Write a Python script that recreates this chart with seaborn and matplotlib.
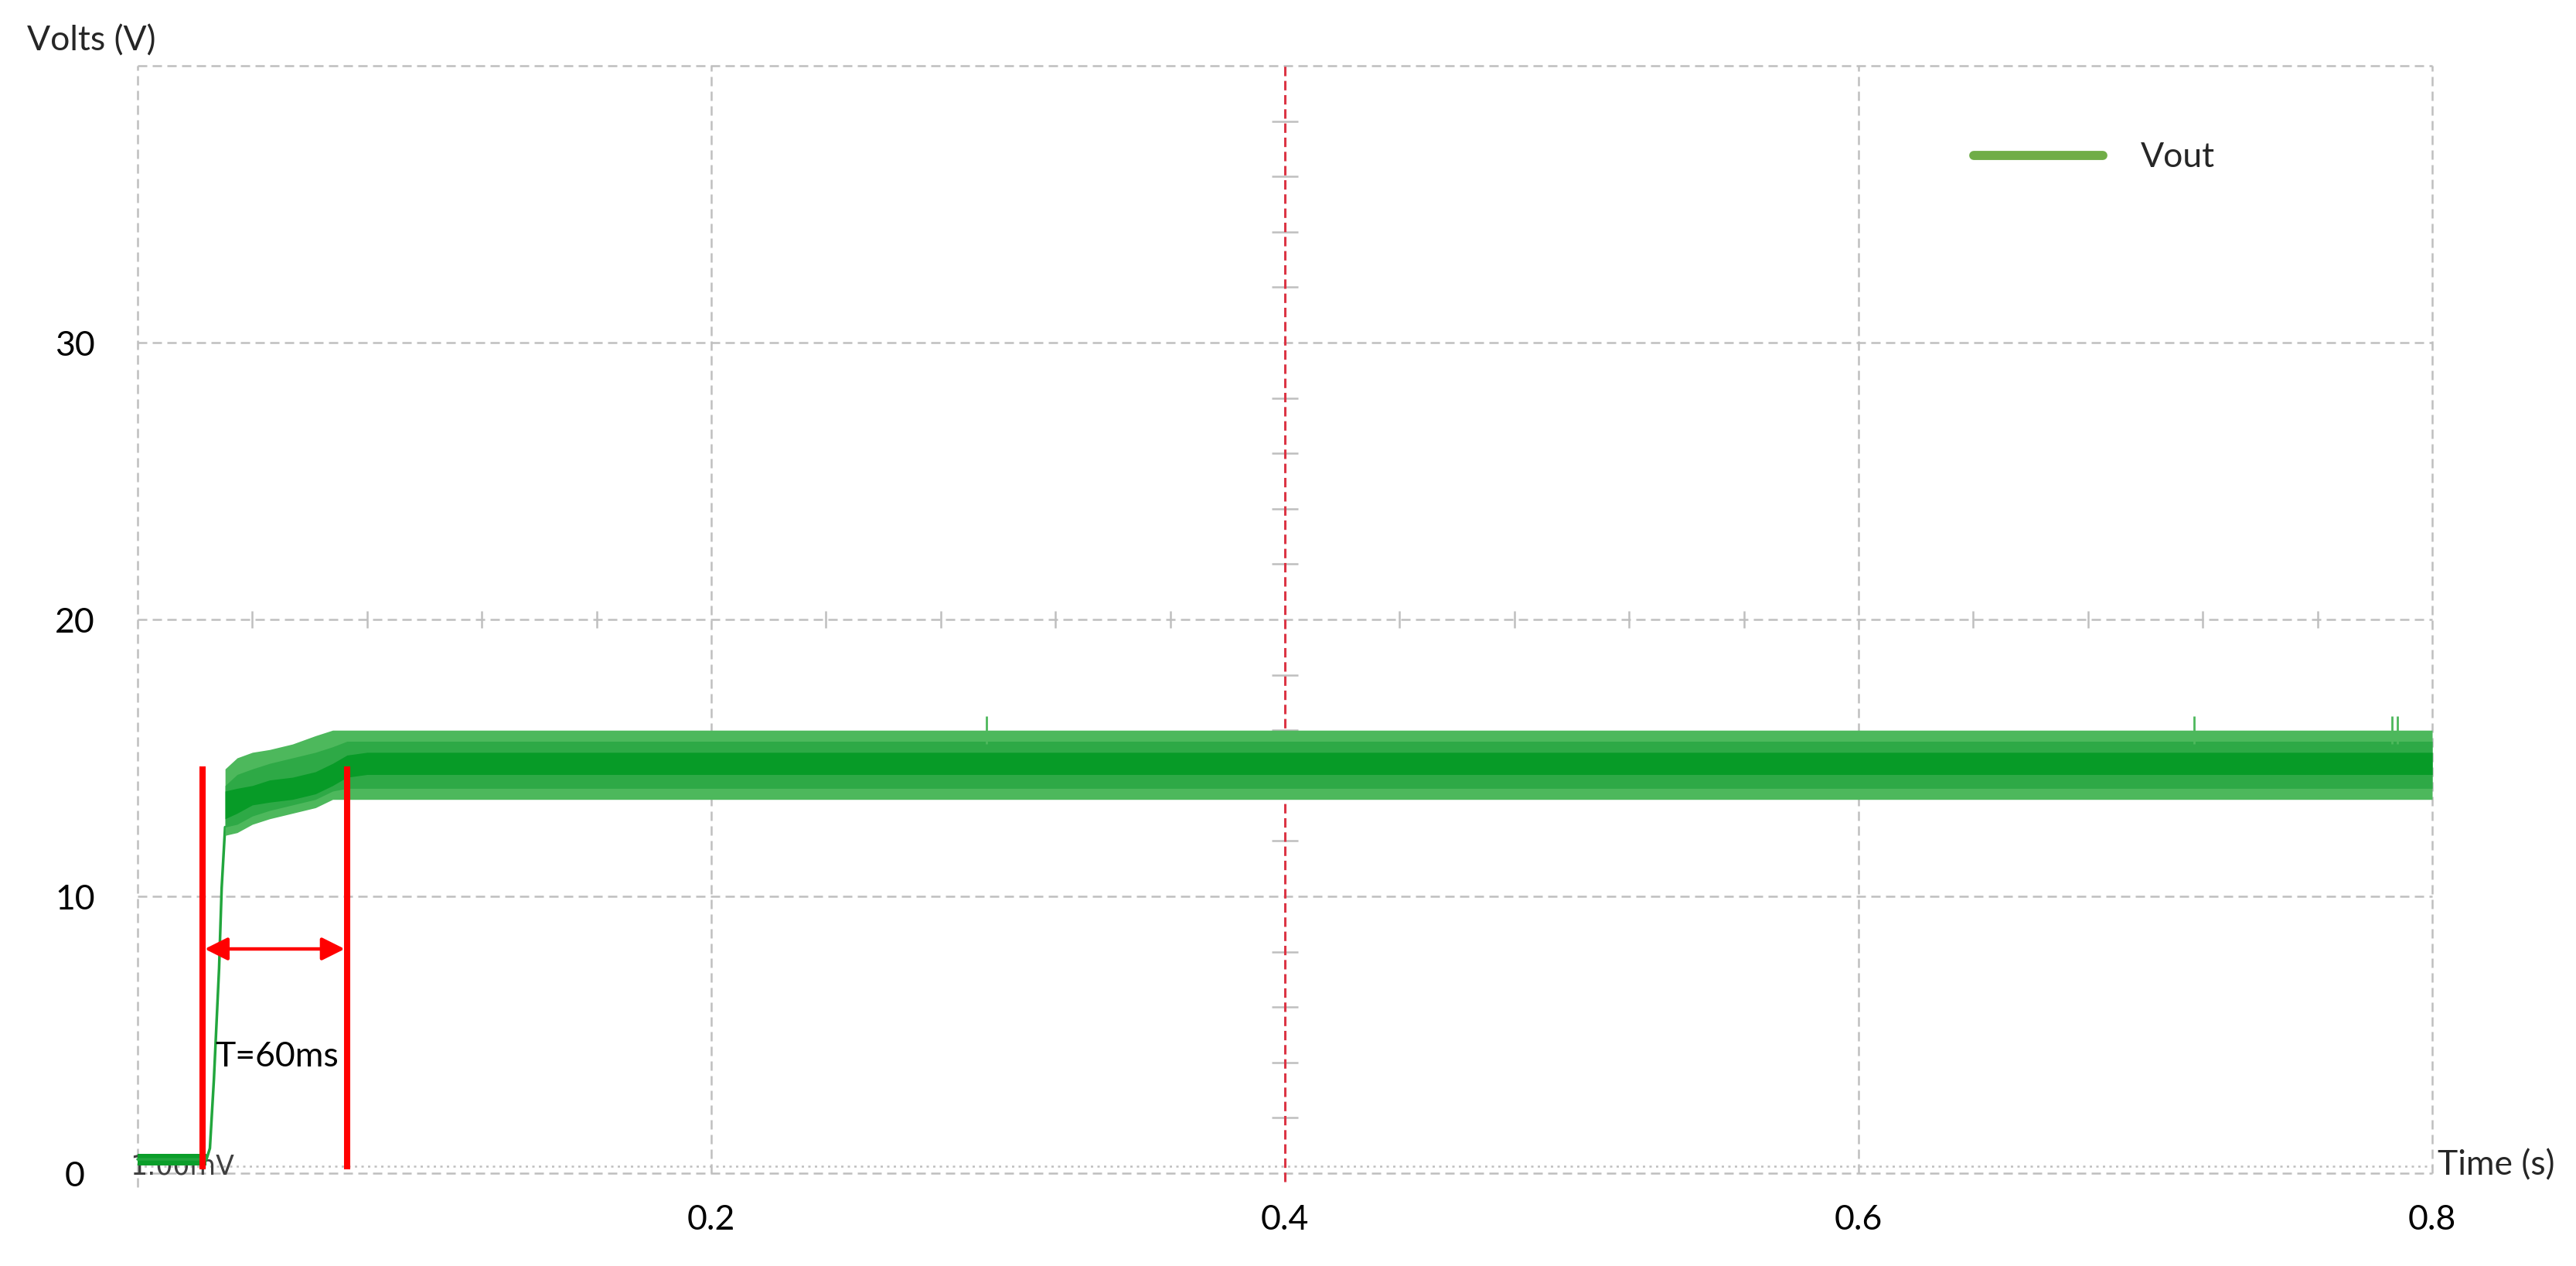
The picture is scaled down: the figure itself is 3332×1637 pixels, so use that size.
import matplotlib
matplotlib.use("Agg")
import matplotlib.pyplot as plt
from matplotlib.lines import Line2D
import seaborn as sns
import pandas as pd

# ---------------- data ----------------
# start-up edge of Vout
rise_t = [0.0, 0.0240, 0.0252, 0.0266, 0.0284, 0.0293, 0.0305]
rise_v = [0.5, 0.5, 0.9, 3.4, 7.4, 10.3, 12.5]

# pre-start baseline band
base_t = [0.0, 0.0240]
base_lo = [0.28, 0.28]
base_hi = [0.70, 0.70]

# ripple envelope after start-up
band_t = [0.0305, 0.0347, 0.040, 0.046, 0.054, 0.062, 0.068, 0.073, 0.080, 0.800]
outer_hi = [14.6, 15.0, 15.2, 15.3, 15.5, 15.8, 16.0, 16.0, 16.0, 16.0]
outer_lo = [12.2, 12.3, 12.6, 12.8, 13.0, 13.2, 13.5, 13.5, 13.5, 13.5]
mid_hi = [14.0, 14.4, 14.6, 14.8, 15.0, 15.2, 15.4, 15.6, 15.6, 15.6]
mid_lo = [12.5, 12.6, 12.9, 13.1, 13.3, 13.5, 13.8, 13.9, 13.9, 13.9]
dark_hi = [13.8, 13.9, 14.0, 14.2, 14.3, 14.5, 14.8, 15.1, 15.2, 15.2]
dark_lo = [12.8, 13.0, 13.3, 13.4, 13.5, 13.7, 14.0, 14.3, 14.4, 14.4]

# isolated ripple spikes
spike_t = [0.296, 0.717, 0.786, 0.788]
spike_v = [16.5, 16.5, 16.5, 16.5]

# annotation
marker_t = [0.0226, 0.0730]
marker_top = 14.7
arrow_v = 8.1
note_text = "T=60ms"
note_t, note_v = 0.027, 4.2

x_ticks = [0.2, 0.4, 0.6, 0.8]
x_labels = ["0.2", "0.4", "0.6", "0.8"]
y_ticks = [0, 10, 20, 30]
y_labels = ["0", "10", "20", "30"]
grid_x = [0.2, 0.6, 0.8]
grid_y = [10, 20, 30, 40]
minor_x = [0.04, 0.08, 0.12, 0.16, 0.24, 0.28, 0.32, 0.36, 0.44, 0.48, 0.52, 0.56,
           0.64, 0.68, 0.72, 0.76]
minor_y = [2, 4, 6, 8, 12, 14, 16, 18, 22, 24, 26, 28, 32, 34, 36, 38]
cursor_t = 0.4

# ---------------- style ----------------
sns.set_style("white")
plt.rcParams['font.family'] = ['Lato', 'DejaVu Sans']

W, H = 3332, 1637
fig = plt.figure(figsize=(W / 100, H / 100), dpi=100)
ax = fig.add_axes([0.04229, 0.0405, 0.92416, 0.92944])
ax.set_xlim(-0.01, 0.82)
ax.set_ylim(-1.5, 41)
for s in ax.spines.values():
    s.set_visible(False)

gcol = "#BFBFBF"
glw = 1.8
gls = (0, (4.8, 2.8))

# grid
ax.hlines(grid_y, 0, 0.8, colors=gcol, lw=glw, linestyles=[gls], zorder=1)
ax.vlines(grid_x, 0, 40, colors=gcol, lw=glw, linestyles=[gls], zorder=1)
ax.vlines([0], -0.5, 40, colors=gcol, lw=glw, linestyles=[gls], zorder=1)
ax.hlines([0], 0, 0.8, colors=gcol, lw=glw, linestyles=[gls], zorder=1)
ax.hlines([0.25], 0, 0.8, colors=gcol, lw=1.8, linestyles=[(0, (1.2, 2.2))], zorder=1)

# minor ticks on centre lines
tick_h = 0.3
ax.vlines(minor_x, 20 - tick_h, 20 + tick_h, colors=gcol, lw=glw, zorder=1)
ax.hlines(minor_y, cursor_t - 0.0045, cursor_t + 0.0045, colors=gcol, lw=glw, zorder=1)

# red cursor
ax.vlines([cursor_t], -0.3, 40.1, colors="#DC3545", lw=2.2,
          linestyles=[(0, (4.0, 2.0))], zorder=2)

# "1.00mV" marker text
ax.text(-0.0027, 0.25, "1.00mV", fontsize=25, color="#404040", ha="left",
        va="center", family=["DejaVu Sans"], zorder=2)

# signal
ax.fill_between(base_t, base_lo, base_hi, color="#0B9E2A", lw=0, zorder=3)
df_rise = pd.DataFrame({"t": rise_t, "v": rise_v})
sns.lineplot(data=df_rise, x="t", y="v", ax=ax, color="#22A63D", lw=2.5,
             zorder=3, legend=False)
ax.fill_between(band_t, outer_lo, outer_hi, color="#4DB85C", lw=0, zorder=3)
ax.fill_between(band_t, mid_lo, mid_hi, color="#2EA946", lw=0, zorder=3)
ax.fill_between(band_t, dark_lo, dark_hi, color="#079B27", lw=0, zorder=3)
ax.vlines(spike_t, 15.5, spike_v, colors="#4DB85C", lw=2, zorder=3)

# annotation
ax.vlines(marker_t, 0.15, marker_top, colors="#FF0000", lw=5.8, zorder=5)
ax.annotate("", xy=(marker_t[0] + 0.0008, arrow_v), xytext=(marker_t[1] - 0.0008, arrow_v),
            arrowprops=dict(arrowstyle="<|-|>", color="#FF0000", lw=3.2,
                            mutation_scale=45, shrinkA=0, shrinkB=0), zorder=5)
ax.text(note_t, note_v, note_text, fontsize=32, ha="left", va="center",
        color="black", zorder=6)

# ticks
ax.set_xticks(x_ticks)
ax.set_xticklabels(x_labels)
ax.set_yticks(y_ticks)
ax.set_yticklabels(y_labels)
ax.tick_params(axis="both", length=0, labelsize=32, colors="black")
ax.tick_params(axis="y", pad=31.6)
ax.tick_params(axis="x", pad=5)
for lbl in ax.get_yticklabels():
    lbl.set_horizontalalignment("center")
for lbl in ax.get_xticklabels():
    lbl.set_verticalalignment("center")
ax.set_xlabel("")
ax.set_ylabel("")

# axis titles
fig.text(35 / W, 1 - 53 / H, "Volts (V)", fontsize=32, ha="left", va="center")
fig.text(3153 / W, 1 - 1507 / H, "Time (s)", fontsize=32, ha="left", va="center")

# legend
handle = Line2D([0], [0], color="#70AD47", lw=8.5, solid_capstyle="round")
ax.legend([handle], ["Vout"], loc="center left",
          bbox_to_anchor=(2553 / W, 1 - 204 / H), bbox_transform=fig.transFigure,
          frameon=False, fontsize=32, handlelength=3.75, handletextpad=1.1,
          borderpad=0, borderaxespad=0)

fig.savefig("out.png", dpi=100, facecolor="white")
